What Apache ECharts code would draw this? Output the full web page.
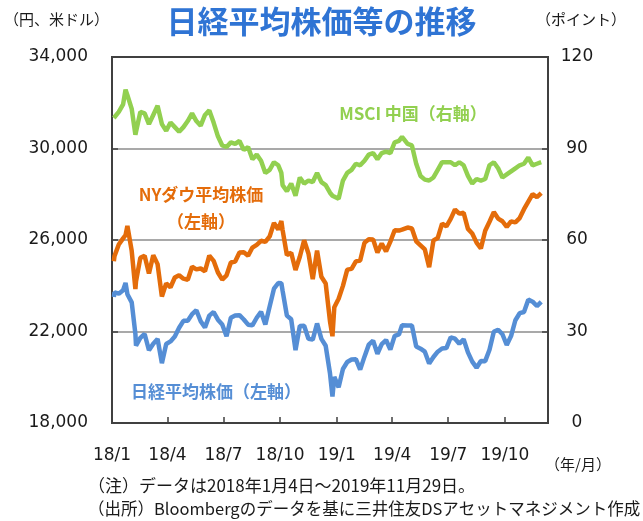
<!DOCTYPE html>
<html>
<head>
<meta charset="utf-8">
<script src="https://cdn.jsdelivr.net/npm/echarts@6/dist/echarts.min.js"></script>
<style>
  html, body { margin: 0; padding: 0; background: #fff; }
  #chart { width: 643px; height: 521px; }
</style>
</head>
<body>
<div id="chart"></div>
<script>
// 週次の観測日（一部の高値・安値の日を追加）
const dates = [
  '2018-01-04','2018-01-05','2018-01-12','2018-01-19','2018-01-23','2018-01-26',
  '2018-02-02','2018-02-08','2018-02-09','2018-02-16','2018-02-23',
  '2018-03-02','2018-03-09','2018-03-16','2018-03-23','2018-03-30',
  '2018-04-06','2018-04-13','2018-04-20','2018-04-27',
  '2018-05-04','2018-05-11','2018-05-18','2018-05-25',
  '2018-06-01','2018-06-08','2018-06-15','2018-06-22','2018-06-29',
  '2018-07-06','2018-07-13','2018-07-20','2018-07-27',
  '2018-08-03','2018-08-10','2018-08-17','2018-08-24','2018-08-31',
  '2018-09-07','2018-09-14','2018-09-21','2018-09-28',
  '2018-10-03','2018-10-05','2018-10-12','2018-10-19','2018-10-26',
  '2018-11-02','2018-11-09','2018-11-16','2018-11-23','2018-11-30',
  '2018-12-07','2018-12-14','2018-12-21','2018-12-25','2018-12-28',
  '2019-01-04','2019-01-11','2019-01-18','2019-01-25',
  '2019-02-01','2019-02-08','2019-02-15','2019-02-22',
  '2019-03-01','2019-03-08','2019-03-15','2019-03-22','2019-03-29',
  '2019-04-05','2019-04-12','2019-04-17','2019-04-26',
  '2019-05-03','2019-05-10','2019-05-17','2019-05-24','2019-05-31',
  '2019-06-07','2019-06-14','2019-06-21','2019-06-28',
  '2019-07-05','2019-07-12','2019-07-19','2019-07-26',
  '2019-08-02','2019-08-09','2019-08-16','2019-08-23','2019-08-30',
  '2019-09-06','2019-09-13','2019-09-20','2019-09-27',
  '2019-10-04','2019-10-11','2019-10-18','2019-10-25',
  '2019-11-01','2019-11-08','2019-11-15','2019-11-22','2019-11-29'
];

// 日経平均株価（円、左軸）
const nikkei = [
  23506,23715,23653,23808,24124,23631,
  23274,21891,21383,21720,21892,
  21181,21469,21676,20617,21454,
  21567,21778,22162,22467,
  22472,22758,22930,22450,
  22171,22694,22851,22516,22304,
  21788,22597,22697,22712,
  22525,22298,22270,22601,22865,
  22307,23094,23870,24120,
  24110,23784,22694,22532,21184,
  22243,22250,21680,21646,22351,
  21679,21375,20166,19155,20015,
  19562,20360,20666,20774,
  20788,20333,20901,21426,
  21603,21026,21451,21627,21206,
  21807,21871,22277,22259,
  22259,21345,21250,21117,20601,
  20885,21117,21259,21276,
  21746,21686,21467,21658,
  21088,20685,20419,20711,20704,
  21200,21988,22079,21879,
  21410,21799,22493,22800,
  22851,23392,23303,23113,23294
];

// NYダウ平均株価（米ドル、左軸）
const nydow = [
  25075,25296,25803,26072,26211,26617,
  25521,23860,24191,25219,25310,
  24538,25336,24946,23533,24103,
  23933,24360,24463,24311,
  24263,24831,24715,24753,
  24635,25317,25090,24581,24271,
  24456,25019,25058,25451,
  25463,25313,25669,25790,25965,
  25917,26155,26744,26458,
  26828,26447,25340,25444,24688,
  25270,25989,25413,24286,25538,
  24389,24101,22445,21792,23062,
  23433,23996,24706,24737,
  25064,25106,25883,26031,
  26026,25450,25849,25502,25929,
  26425,26412,26450,26543,
  26505,25942,25764,25586,24815,
  25984,26090,26719,26600,
  26922,27332,27154,27192,
  26485,26287,25886,25628,26403,
  26797,27220,26935,26820,
  26573,26817,26770,26958,
  27347,27681,28005,27876,28051
];

// MSCI 中国（ポイント、右軸）
const msciChina = [
  100,100.5,102,104.5,109.3,107.5,
  103,94.5,95.5,102,101.5,
  98,101,104,98,95.8,
  98.5,97,95.5,97,
  99,101.5,99,97.5,
  101,102.5,98.5,94,91,
  90.5,92,91.5,92.5,
  89.5,90.5,86.5,88,86,
  82,83,85.5,84.5,
  82,78,76,78.5,74.5,
  80.5,78.5,79.5,79,82,
  79,78,75.5,74.5,74.5,
  73.5,79.5,82,83,
  85,84.5,86,88,
  88.5,86.5,88.5,89,88.5,
  92,92.5,93.8,91.5,
  91,85,81,79.8,79.5,
  80.5,83,85.5,85.5,
  85.5,84.5,85.5,84.5,
  81,78.5,80,79.5,80,
  84.5,85.5,83.5,80.5,
  81.5,82.5,83.5,84.5,
  85,87,84.5,85,85.5
];

// 横軸の目盛り（四半期）
const xTickDates = ['2018-01-01','2018-04-01','2018-07-01','2018-10-01',
                    '2019-01-01','2019-04-01','2019-07-01','2019-10-01'];
const xTickLabels = ['18/1','18/4','18/7','18/10','19/1','19/4','19/7','19/10'];

// 2018/1/1 からの経過日数
const DAY = 86400000;
const origin = Date.UTC(2018, 0, 1);
function toDay(s) {
  const p = s.split('-').map(Number);
  return Math.round((Date.UTC(p[0], p[1] - 1, p[2]) - origin) / DAY);
}

const xTicks = xTickDates.map(toDay);
const pair = arr => dates.map((d, i) => [toDay(d), arr[i]]);

const chart = echarts.init(document.getElementById('chart'));

const axisDark = '#404040';
const jp = '"Noto Sans CJK JP", sans-serif';
const num = '"DejaVu Sans", sans-serif';

chart.setOption({
  animation: false,
  backgroundColor: '#fff',
  grid: {
    left: 112, right: 95, top: 57, bottom: 98,
    show: true,
    borderColor: axisDark,
    borderWidth: 2
  },
  xAxis: {
    type: 'value',
    min: 0,
    max: toDay('2019-12-10'),
    axisLine: { show: true, onZero: false, lineStyle: { color: axisDark, width: 2 } },
    axisTick: {
      show: true, inside: true, length: 6,
      customValues: xTicks,
      lineStyle: { color: axisDark, width: 1.5 }
    },
    axisLabel: {
      customValues: xTicks,
      formatter: v => xTickLabels[xTicks.indexOf(v)] || '',
      color: '#1a1a1a',
      fontFamily: num,
      fontSize: 17,
      margin: 24,
      showMinLabel: true,
      showMaxLabel: true,
      hideOverlap: false
    },
    splitLine: { show: false }
  },
  yAxis: [
    {
      type: 'value',
      min: 18000, max: 34000, interval: 4000,
      axisLine: { show: true, lineStyle: { color: axisDark, width: 2 } },
      axisTick: { show: true, inside: true, length: 6, lineStyle: { color: axisDark, width: 1.5 } },
      axisLabel: {
        formatter: v => v.toLocaleString('en-US'),
        color: '#1a1a1a',
        fontFamily: num,
        fontSize: 17,
        margin: 24
      },
      splitLine: {
        show: true,
        lineStyle: {
          color: ['rgba(0,0,0,0)', '#8c8c8c', '#8c8c8c', '#8c8c8c', 'rgba(0,0,0,0)'],
          width: 1.5
        }
      }
    },
    {
      type: 'value',
      min: 0, max: 120, interval: 30,
      position: 'right',
      axisLine: { show: true, lineStyle: { color: axisDark, width: 2 } },
      axisTick: { show: true, inside: true, length: 6, lineStyle: { color: axisDark, width: 1.5 } },
      axisLabel: {
        color: '#1a1a1a',
        fontFamily: num,
        fontSize: 17,
        align: 'center',
        margin: 29
      },
      splitLine: { show: false }
    }
  ],
  series: [
    {
      name: '日経平均株価',
      type: 'line',
      yAxisIndex: 0,
      data: pair(nikkei),
      showSymbol: false,
      lineStyle: { color: '#558ED5', width: 4.5 },
      itemStyle: { color: '#558ED5' }
    },
    {
      name: 'NYダウ平均株価',
      type: 'line',
      yAxisIndex: 0,
      data: pair(nydow),
      showSymbol: false,
      lineStyle: { color: '#E46C0A', width: 4.5 },
      itemStyle: { color: '#E46C0A' }
    },
    {
      name: 'MSCI 中国',
      type: 'line',
      yAxisIndex: 1,
      data: pair(msciChina),
      showSymbol: false,
      lineStyle: { color: '#92D050', width: 4.5 },
      itemStyle: { color: '#92D050' }
    }
  ],
  graphic: [
    // タイトル
    { type: 'text', left: 'center', top: 6,
      style: { text: '日経平均株価等の推移', fill: '#2F74D4', font: 'bold 31px ' + jp } },
    { type: 'text', x: 4, y: 19,
      style: { text: '（円、米ドル）', fill: '#1a1a1a', font: '15px ' + jp, textVerticalAlign: 'middle' } },
    { type: 'text', x: 536, y: 19,
      style: { text: '（ポイント）', fill: '#1a1a1a', font: '15px ' + jp, textVerticalAlign: 'middle' } },
    // 系列ラベル
    { type: 'text', x: 413, y: 114,
      style: { text: 'MSCI 中国（右軸）', fill: '#92D050', font: 'bold 17px ' + jp,
               textAlign: 'center', textVerticalAlign: 'middle' } },
    { type: 'text', x: 201, y: 195,
      style: { text: 'NYダウ平均株価', fill: '#E46C0A', font: 'bold 17px ' + jp,
               textAlign: 'center', textVerticalAlign: 'middle' } },
    { type: 'text', x: 201, y: 222,
      style: { text: '（左軸）', fill: '#E46C0A', font: 'bold 17px ' + jp,
               textAlign: 'center', textVerticalAlign: 'middle' } },
    { type: 'text', x: 216, y: 392,
      style: { text: '日経平均株価（左軸）', fill: '#558ED5', font: 'bold 17px ' + jp,
               textAlign: 'center', textVerticalAlign: 'middle' } },
    // 単位と注記
    { type: 'text', x: 545, y: 464,
      style: { text: '（年/月）', fill: '#1a1a1a', font: '15px ' + jp, textVerticalAlign: 'middle' } },
    { type: 'text', x: 88, y: 486,
      style: { text: '（注）データは2018年1月4日～2019年11月29日。', fill: '#1a1a1a',
               font: '17px ' + jp, textVerticalAlign: 'middle' } },
    { type: 'text', x: 88, y: 509,
      style: { text: '（出所）Bloombergのデータを基に三井住友DSアセットマネジメント作成', fill: '#1a1a1a',
               font: '16.5px ' + jp, textVerticalAlign: 'middle' } }
  ]
});
</script>
</body>
</html>
